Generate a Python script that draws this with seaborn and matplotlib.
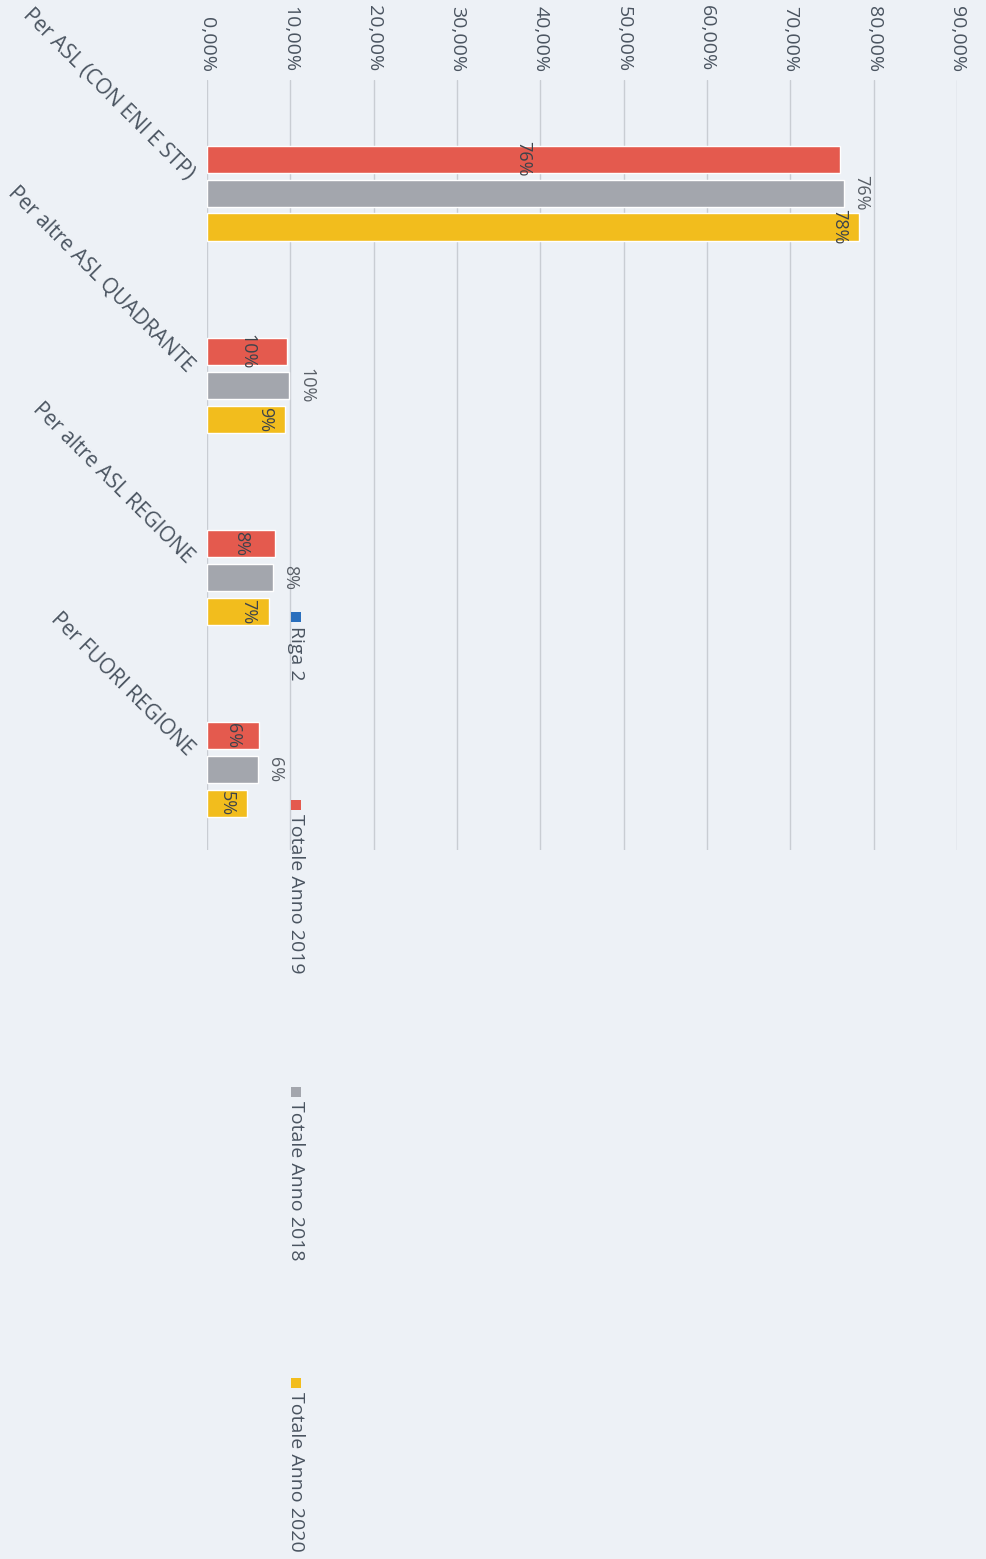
import numpy as np
import pandas as pd
import matplotlib
matplotlib.use("Agg")
import matplotlib.pyplot as plt
import matplotlib.transforms as mtransforms
from matplotlib.patches import Rectangle
import seaborn as sns

# ---------------- data ----------------
categories = ["Per ASL (CON ENI E STP)", "Per altre ASL QUADRANTE",
              "Per altre ASL REGIONE", "Per FUORI REGIONE"]
series_names = ["Totale Anno 2019", "Totale Anno 2018", "Totale Anno 2020"]
values_2019 = [75.9, 9.6, 8.2, 6.2]
values_2018 = [76.4, 9.9, 7.9, 6.1]
values_2020 = [78.3, 9.4, 7.4, 4.8]
legend_labels = ["Riga 2", "Totale Anno 2019", "Totale Anno 2018", "Totale Anno 2020"]
x_ticks = [0, 10, 20, 30, 40, 50, 60, 70, 80, 90]
x_tick_labels = ["0,00%", "10,00%", "20,00%", "30,00%", "40,00%",
                 "50,00%", "60,00%", "70,00%", "80,00%", "90,00%"]

# ---------------- style ----------------
BG = "#edf1f6"
TXT = "#4a5460"
colors = {"Totale Anno 2019": "#e45a4e", "Totale Anno 2018": "#a3a6ad",
          "Totale Anno 2020": "#f2bd1d"}
legend_colors = ["#2a6fbd", "#e45a4e", "#a3a6ad", "#f2bd1d"]

sns.set_theme(style="white")
plt.rcParams["font.family"] = ["Open Sans", "DejaVu Sans"]

df = pd.DataFrame({
    "category": categories * 3,
    "series": [s for s in series_names for _ in categories],
    "value": values_2019 + values_2018 + values_2020,
})

W, H = 987, 1559
fig = plt.figure(figsize=(W / 100, H / 100), dpi=100, facecolor=BG)
ax = fig.add_axes([207 / W, (H - 850) / H, 750 / W, 770 / H])
ax.set_facecolor(BG)

sns.barplot(data=df, x="value", y="category", hue="series", hue_order=series_names,
            order=categories, palette=colors, orient="h", width=0.53, gap=0.2,
            saturation=1, legend=False, ax=ax, zorder=3)

ax.set_xlim(0, 90)
ax.set_ylim(3.42, -0.589)
ax.xaxis.tick_top()
ax.set_xticks(x_ticks)
ax.set_xticklabels(x_tick_labels, rotation=-90, fontsize=14, color=TXT)
ax.tick_params(axis="x", length=0, pad=6)
ax.grid(axis="x", color="#c9cdd3", lw=1, zorder=0)
ax.grid(axis="y", visible=False)
for s in ax.spines.values():
    s.set_visible(False)
ax.set_xlabel("")
ax.set_ylabel("")

ax.set_yticks(range(len(categories)))
ax.set_yticklabels(categories, rotation=-45, ha="right", va="center",
                   rotation_mode="anchor", fontsize=15, color=TXT)
ax.tick_params(axis="y", length=0, pad=12)
off = mtransforms.ScaledTranslation(0, 12 / 72, fig.dpi_scale_trans)
for lbl in ax.get_yticklabels():
    lbl.set_transform(lbl.get_transform() + off)

# ---------------- data labels ----------------
conts = ax.containers
ax.bar_label(conts[0], labels=[f"{round(v)}%" for v in values_2019], label_type="center",
             rotation=-90, fontsize=13, color="#3d434b")
ax.bar_label(conts[1], labels=[f"{round(v)}%" for v in values_2018], label_type="edge",
             padding=6, rotation=-90, fontsize=13, color="#595f67")
for p, v in zip(conts[2].patches, values_2020):
    ax.annotate(f"{round(v)}%", xy=(v, p.get_y() + p.get_height() / 2),
                xytext=(-8, 0), textcoords="offset points", ha="right", va="center",
                rotation=-90, fontsize=13, color="#3d434b", zorder=5)

# ---------------- legend (rotated, manual) ----------------
leg_marker_y = [617, 805, 1092, 1383]
for lab, col, my in zip(legend_labels, legend_colors, leg_marker_y):
    fig.add_artist(Rectangle(((296 - 5) / W, (H - my - 5) / H), 10 / W, 10 / H,
                             transform=fig.transFigure, facecolor=col, edgecolor="none"))
    fig.text(296 / W, (H - my - 9) / H, lab, rotation=-90, ha="center", va="top",
             fontsize=14, color=TXT)

fig.savefig("out.png", dpi=100, facecolor=BG)
